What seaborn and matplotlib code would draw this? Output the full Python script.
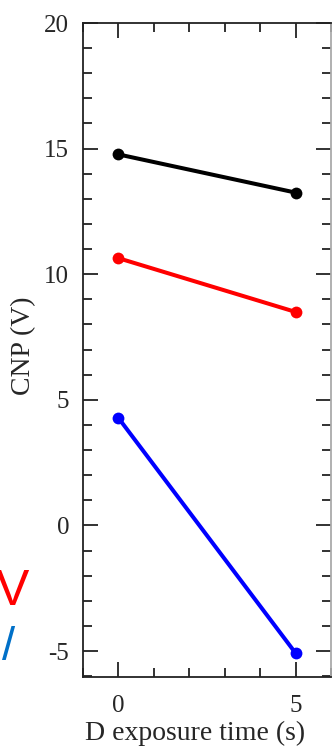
import matplotlib
matplotlib.use("Agg")
import matplotlib.pyplot as plt
import seaborn as sns
import pandas as pd
from matplotlib.ticker import MultipleLocator

# Data
exposure_time = [0, 5]
cnp_black = [14.77, 13.25]
cnp_red = [10.64, 8.50]
cnp_blue = [4.28, -5.08]
series_names = ["black", "red", "blue"]
series_colors = ["#000000", "#ff0000", "#0000ff"]

rows = []
for name, vals in zip(series_names, [cnp_black, cnp_red, cnp_blue]):
    for t, v in zip(exposure_time, vals):
        rows.append({"t": t, "cnp": v, "series": name})
df = pd.DataFrame(rows)

sns.set_style("ticks")
plt.rcParams["font.family"] = ["Liberation Serif", "DejaVu Serif"]
plt.rcParams["axes.unicode_minus"] = False

fig = plt.figure(figsize=(3.33, 7.47), dpi=100)
ax = fig.add_axes([83 / 333, 1 - 677 / 747, (331 - 83) / 333, (677 - 23) / 747])

sns.lineplot(data=df, x="t", y="cnp", hue="series", hue_order=series_names,
             palette=series_colors, marker="o", markersize=8.5, linewidth=2.9,
             markeredgewidth=0, legend=False, ax=ax)

ax.set_xlim(-1, 6)
ax.set_ylim(-6.03, 20)
ax.xaxis.set_major_locator(MultipleLocator(5))
ax.xaxis.set_minor_locator(MultipleLocator(1))
ax.yaxis.set_major_locator(MultipleLocator(5))
ax.yaxis.set_minor_locator(MultipleLocator(1))
ax.tick_params(which="both", direction="in", top=True, right=True, width=1.3, color="#222222")
ax.tick_params(which="major", length=11)
ax.tick_params(which="minor", length=6.5)
ax.tick_params(axis="x", which="major", labelsize=18, pad=13)
ax.tick_params(axis="y", which="major", labelsize=18, pad=10)
for s in ax.spines.values():
    s.set_linewidth(1.3)
    s.set_color("#222222")
ax.spines["right"].set_color("#aaaaaa")

ax.set_xlabel("D exposure time (s)", fontsize=20)
ax.set_ylabel("CNP (V)", fontsize=20)
ax.xaxis.set_label_coords(0.45, -0.067)
ax.yaxis.set_label_coords(-0.19, 0.507)

# clipped text from a neighbouring panel at the left edge
fig.text(12 / 333, 1 - 605 / 747, "V", color="#ff0000", fontsize=36,
         family=["Liberation Sans", "DejaVu Sans"], ha="center", va="baseline")
fig.text(15 / 333, 1 - 660 / 747, "/", color="#0070c8", fontsize=34,
         family=["Liberation Sans", "DejaVu Sans"], ha="right", va="baseline")

fig.savefig("out.png", dpi=100)
